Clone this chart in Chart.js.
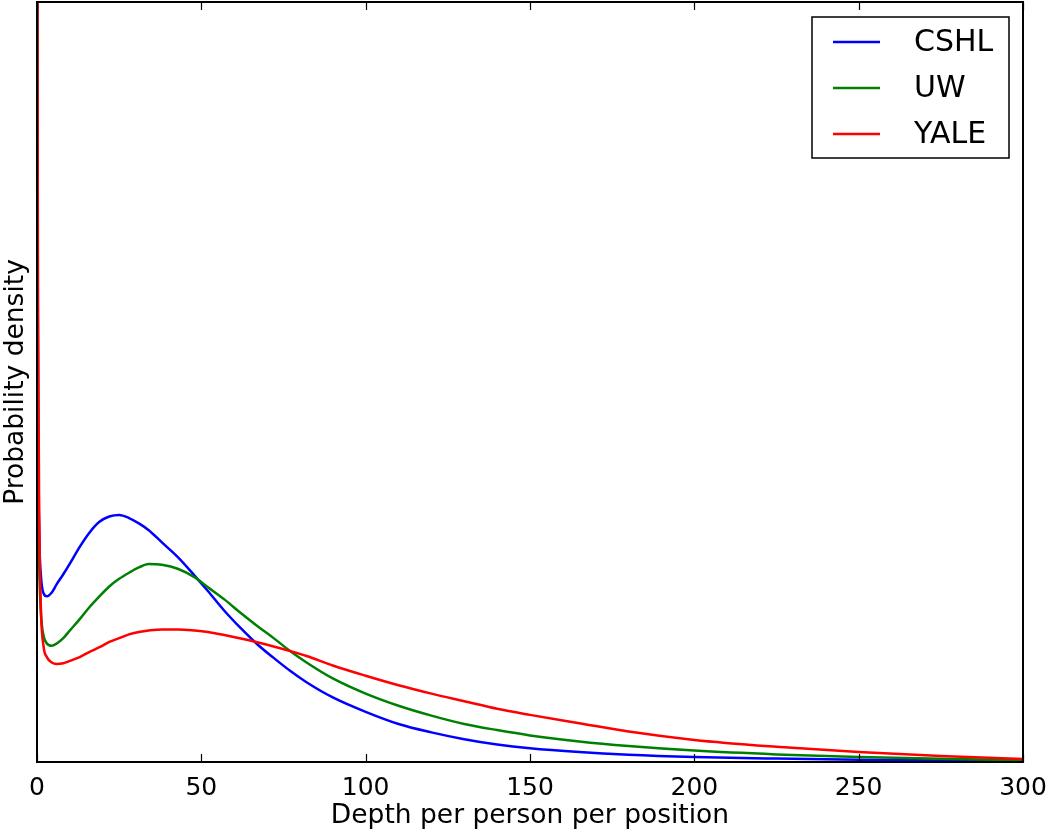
<!DOCTYPE html>
<html>
<head>
<meta charset="utf-8">
<script src="https://cdn.jsdelivr.net/npm/chart.js@4"></script>
<style>
  html, body { margin: 0; padding: 0; background: #fff; }
  #wrap { width: 1050px; height: 832px; }
</style>
</head>
<body>
<div id="wrap"><canvas id="chart"></canvas></div>
<script>
// depth values (x) shared by all three curves
const depth = [0, 0.3, 0.7, 1.2, 2, 3, 4.5, 6, 8, 10, 13, 16, 19, 22, 25, 28, 31, 34, 38, 43, 48, 52,
               57, 62, 67, 72, 77, 82, 90, 100, 110, 120, 130, 140, 150, 165, 180, 200, 225, 250, 275, 300];
// relative probability density (axis has no labels)
const cshl = [130, 50, 30, 24.5, 22.2, 21.8, 22.3, 23.4, 24.7, 26.1, 28.3, 30.2, 31.6, 32.3, 32.5, 32.1, 31.4, 30.5, 28.9, 26.9, 24.5, 22.5,
              19.9, 17.6, 15.5, 13.7, 12.0, 10.5, 8.5, 6.6, 5.0, 3.9, 3.0, 2.3, 1.8, 1.3, 0.95, 0.66, 0.45, 0.3, 0.2, 0.15];
const uw   = [130, 40, 25, 19.5, 16.6, 15.6, 15.3, 15.6, 16.3, 17.3, 18.8, 20.4, 21.8, 23.1, 24.1, 24.9, 25.6, 26.05, 25.95, 25.4, 24.3, 23.0,
              21.4, 19.6, 17.9, 16.3, 14.6, 13.1, 11.0, 9.0, 7.4, 6.1, 5.0, 4.2, 3.5, 2.7, 2.1, 1.5, 1.0, 0.66, 0.42, 0.26];
const yale = [130, 60, 32, 20, 15.2, 13.8, 13.1, 12.9, 13.0, 13.3, 13.8, 14.5, 15.1, 15.8, 16.3, 16.8, 17.1, 17.3, 17.45, 17.45, 17.3, 17.1,
              16.7, 16.25, 15.75, 15.2, 14.6, 13.95, 12.7, 11.35, 10.1, 9.0, 8.0, 7.0, 6.2, 5.1, 4.0, 2.9, 2.0, 1.3, 0.8, 0.4];
const seriesNames = ['CSHL', 'UW', 'YALE'];
const seriesColors = ['#0000ff', '#008000', '#ff0000'];
const xTicks = [0, 50, 100, 150, 200, 250, 300];

const FONT = '"DejaVu Sans", sans-serif';

function toPoints(ys) {
    return depth.map((x, i) => ({ x: x, y: ys[i] }));
}

// frame, inward ticks and the boxed legend, matplotlib style
const framePlugin = {
    id: 'frame',
    afterDraw(chart) {
        const ctx = chart.ctx;
        const a = chart.chartArea;
        const xs = chart.scales.x;
        ctx.save();
        ctx.strokeStyle = '#000';
        ctx.lineWidth = 1.2;
        xTicks.forEach(function(v) {
            const px = Math.round(xs.getPixelForValue(v)) + 0.5;
            ctx.beginPath();
            ctx.moveTo(px, a.bottom);
            ctx.lineTo(px, a.bottom - 8);
            ctx.moveTo(px, a.top);
            ctx.lineTo(px, a.top + 8);
            ctx.stroke();
        });
        ctx.lineWidth = 2;
        ctx.strokeRect(a.left, a.top, a.right - a.left, a.bottom - a.top);

        // legend box
        const bx = 812, by = 17, bw = 197, bh = 141;
        ctx.fillStyle = '#fff';
        ctx.fillRect(bx, by, bw, bh);
        ctx.lineWidth = 1.5;
        ctx.strokeStyle = '#000';
        ctx.strokeRect(bx, by, bw, bh);
        ctx.font = '30px ' + FONT;
        ctx.textBaseline = 'middle';
        chart.data.datasets.forEach(function(ds, i) {
            const y = 42 + i * 46;
            ctx.strokeStyle = ds.borderColor;
            ctx.lineWidth = 2.5;
            ctx.beginPath();
            ctx.moveTo(833, y);
            ctx.lineTo(880, y);
            ctx.stroke();
            ctx.fillStyle = '#000';
            ctx.fillText(ds.label, 914, y + 1);
        });
        ctx.restore();
    }
};

const ctx = document.getElementById('chart');
new Chart(ctx.getContext('2d'), {
    type: 'line',
    data: {
        datasets: [
            { label: seriesNames[0], data: toPoints(cshl), borderColor: seriesColors[0], order: 3 },
            { label: seriesNames[1], data: toPoints(uw), borderColor: seriesColors[1], order: 2 },
            { label: seriesNames[2], data: toPoints(yale), borderColor: seriesColors[2], order: 1 }
        ].map(d => Object.assign(d, {
            borderWidth: 2.5,
            pointRadius: 0,
            fill: false,
            cubicInterpolationMode: 'monotone',
            clip: 0
        }))
    },
    options: {
        responsive: true,
        maintainAspectRatio: false,
        animation: false,
        layout: { padding: { top: 2, right: 27, left: 0, bottom: 0 } },
        plugins: {
            legend: { display: false },
            tooltip: { enabled: false }
        },
        scales: {
            x: {
                type: 'linear',
                min: 0,
                max: 300,
                afterBuildTicks: function(scale) {
                    scale.ticks = xTicks.map(v => ({ value: v }));
                },
                afterFit: function(scale) {
                    scale.height = 70;
                    scale.paddingLeft = 0;
                    scale.paddingRight = 0;
                },
                grid: { display: false },
                border: { display: false },
                ticks: {
                    color: '#000',
                    padding: 3,
                    maxRotation: 0,
                    font: { family: FONT, size: 25 }
                },
                title: {
                    display: true,
                    text: 'Depth per person per position',
                    color: '#000',
                    padding: { top: 0, bottom: 0 },
                    font: { family: FONT, size: 26.5 }
                }
            },
            y: {
                min: 0,
                max: 100,
                afterFit: function(scale) { scale.width = 37; },
                grid: { display: false },
                border: { display: false },
                ticks: { display: false },
                title: {
                    display: true,
                    text: 'Probability density',
                    color: '#000',
                    padding: { top: 0, bottom: 2 },
                    font: { family: FONT, size: 26.5 }
                }
            }
        }
    },
    plugins: [framePlugin]
});
</script>
</body>
</html>
